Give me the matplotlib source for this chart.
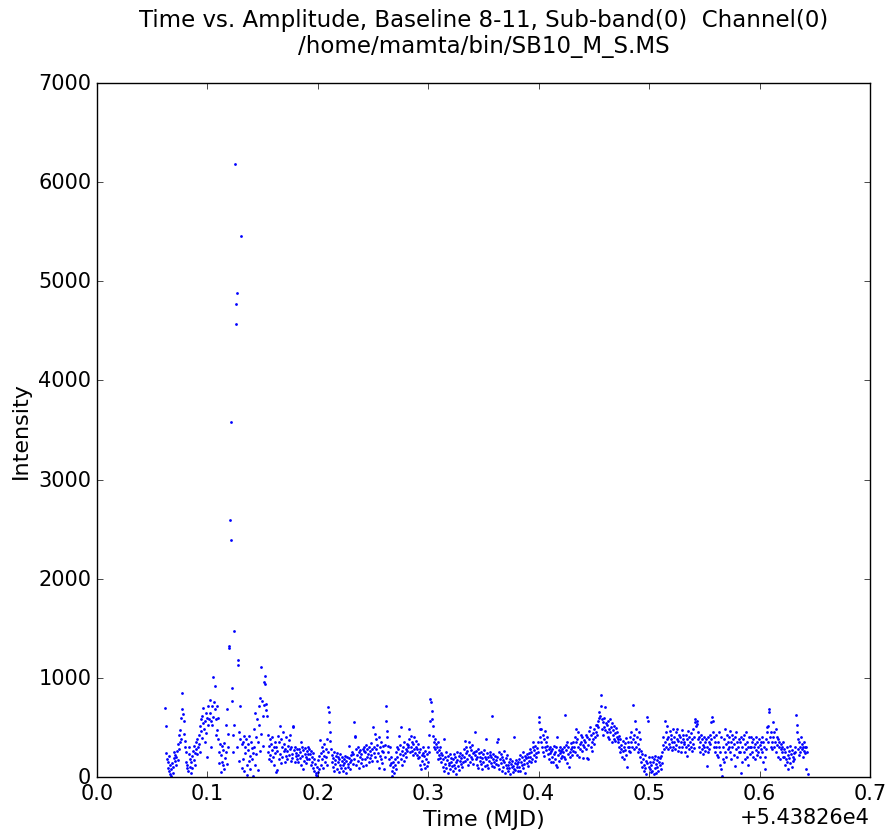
import numpy as np
import matplotlib
matplotlib.use("Agg")
import matplotlib.pyplot as plt
from matplotlib.ticker import ScalarFormatter

# time axis: regular samples, MJD
mjd_offset = 54382.6
t_start = 0.062
t_step = 0.0005

# amplitude, 20 samples per row (0.01 MJD)
amp_rows = [
    [700, 515, 240, 180, 90, 150, 60, 210, 120, 30, 5, 80, 140, 40, 100, 190, 250, 160, 220, 120],
    [200, 260, 170, 330, 280, 420, 350, 470, 380, 600, 690, 850, 640, 560, 430, 300, 360, 250, 150, 90],
    [120, 60, 230, 300, 180, 100, 45, 150, 210, 90, 260, 170, 310, 240, 120, 280, 350, 230, 380, 300],
    [420, 330, 510, 250, 460, 580, 390, 620, 540, 700, 480, 350, 560, 650, 440, 200, 600, 520, 720, 580],
    [650, 780, 300, 560, 720, 520, 1005, 610, 760, 920, 690, 590, 420, 720, 470, 380, 600, 250, 140, 330],
    [220, 50, 310, 150, 270, 120, 340, 80, 190, 250, 520, 130, 690, 300, 430, 1320, 1300, 2590, 2395, 3580],
    [770, 900, 420, 250, 1475, 520, 6180, 4770, 4565, 4885, 300, 1185, 1125, 160, 450, 720, 380, 5460, 90, 330],
    [350, 180, 410, 60, 300, 240, 380, 120, 20, 270, 330, 160, 410, 210, 80, 350, 180, 290, 15, 240],
    [300, 480, 120, 650, 230, 400, 585, 70, 350, 520, 720, 260, 800, 430, 1106, 770, 620, 310, 730, 960],
    [940, 1022, 680, 735, 620, 420, 250, 310, 180, 380, 220, 330, 160, 270, 400, 200, 300, 120, 350, 240],
    [50, 300, 70, 260, 410, 180, 350, 517, 230, 140, 380, 300, 200, 450, 260, 330, 150, 280, 400, 210],
    [260, 180, 310, 370, 220, 420, 280, 160, 300, 230, 190, 510, 505, 270, 300, 150, 240, 210, 280, 180],
    [220, 150, 280, 190, 250, 120, 350, 300, 210, 80, 270, 160, 230, 290, 140, 200, 260, 180, 300, 230],
    [280, 180, 230, 120, 260, 200, 150, 240, 90, 180, 60, 130, 20, 40, 5, 100, 50, 170, 80, 210],
    [370, 240, 120, 300, 180, 260, 90, 330, 210, 150, 280, 200, 380, 120, 250, 703, 653, 552, 451, 367],
    [280, 150, 220, 100, 190, 60, 250, 170, 130, 210, 80, 240, 150, 200, 50, 180, 120, 230, 90, 160],
    [200, 120, 60, 180, 140, 210, 90, 160, 40, 200, 130, 100, 190, 316, 150, 80, 220, 170, 250, 130],
    [230, 552, 180, 410, 400, 280, 120, 220, 160, 300, 250, 90, 200, 270, 140, 230, 180, 280, 110, 260],
    [300, 180, 250, 120, 320, 200, 280, 230, 150, 300, 260, 190, 340, 220, 280, 160, 501, 240, 300, 200],
    [434, 280, 383, 160, 320, 240, 400, 90, 300, 210, 350, 180, 260, 140, 310, 250, 80, 200, 320, 716],
    [569, 468, 400, 316, 250, 180, 120, 300, 200, 140, 60, 10, 100, 150, 40, 120, 180, 80, 250, 300],
    [200, 280, 150, 417, 320, 230, 501, 180, 260, 120, 300, 220, 350, 160, 240, 280, 200, 330, 260, 300],
    [320, 484, 380, 250, 300, 417, 260, 350, 220, 330, 283, 400, 240, 300, 360, 220, 280, 190, 330, 250],
    [200, 120, 280, 80, 220, 160, 300, 240, 130, 210, 90, 260, 180, 110, 230, 300, 150, 250, 420, 560],
    [787, 754, 670, 585, 518, 417, 350, 300, 380, 283, 330, 250, 300, 182, 350, 220, 270, 190, 300, 240],
    [150, 220, 100, 180, 60, 383, 200, 130, 250, 90, 170, 45, 210, 140, 120, 230, 80, 190, 150, 110],
    [180, 60, 230, 120, 90, 200, 150, 30, 250, 170, 110, 210, 70, 160, 240, 130, 190, 100, 220, 150],
    [200, 280, 367, 160, 240, 300, 180, 260, 120, 350, 220, 300, 150, 270, 200, 320, 180, 240, 130, 250],
    [220, 451, 180, 260, 120, 200, 280, 90, 240, 160, 200, 130, 250, 80, 190, 230, 150, 270, 110, 200],
    [383, 180, 120, 240, 200, 90, 160, 220, 250, 140, 200, 110, 612, 180, 230, 150, 100, 210, 170, 130],
    [200, 350, 120, 383, 250, 80, 180, 140, 230, 60, 200, 170, 100, 260, 150, 45, 190, 120, 220, 90],
    [120, 60, 150, 90, 180, 30, 130, 100, 160, 50, 110, 400, 80, 140, 70, 170, 100, 130, 60, 150],
    [180, 100, 220, 60, 150, 200, 120, 250, 90, 170, 130, 210, 45, 190, 140, 230, 110, 200, 160, 240],
    [200, 280, 150, 250, 180, 300, 350, 220, 270, 160, 310, 240, 200, 290, 250, 350, 552, 602, 480, 400],
    [484, 350, 300, 420, 250, 380, 216, 460, 300, 350, 270, 400, 310, 230, 280, 180, 300, 240, 150, 260],
    [200, 280, 150, 310, 230, 180, 250, 120, 300, 400, 98, 220, 270, 160, 240, 300, 190, 260, 210, 280],
    [250, 300, 200, 626, 180, 320, 270, 140, 350, 230, 300, 98, 250, 200, 340, 280, 220, 300, 350, 260],
    [300, 250, 400, 350, 484, 220, 380, 300, 450, 200, 330, 280, 420, 350, 260, 400, 190, 320, 370, 300],
    [350, 420, 280, 400, 190, 182, 320, 460, 380, 500, 300, 420, 350, 260, 440, 380, 480, 330, 400, 520],
    [450, 520, 420, 560, 500, 600, 653, 620, 831, 720, 580, 480, 550, 420, 600, 500, 470, 703, 540, 450],
    [520, 400, 560, 480, 380, 585, 450, 500, 350, 540, 420, 470, 380, 510, 440, 360, 490, 400, 450, 380],
    [350, 300, 417, 250, 380, 280, 320, 200, 360, 260, 300, 182, 340, 270, 390, 220, 98, 300, 350, 260],
    [300, 400, 250, 350, 450, 300, 380, 730, 420, 280, 569, 350, 480, 300, 400, 250, 330, 450, 280, 380],
    [200, 260, 150, 230, 100, 180, 60, 120, 220, 90, 160, 30, 140, 602, 569, 200, 100, 80, 150, 50],
    [120, 200, 60, 150, 30, 180, 90, 215, 130, 40, 170, 100, 200, 60, 150, 120, 190, 80, 210, 140],
    [250, 320, 400, 280, 350, 569, 300, 450, 380, 518, 280, 400, 330, 460, 300, 380, 420, 270, 350, 480],
    [300, 400, 350, 280, 450, 320, 380, 484, 260, 360, 420, 300, 400, 250, 350, 470, 300, 380, 420, 330],
    [350, 250, 420, 300, 380, 216, 460, 320, 280, 400, 350, 300, 440, 260, 380, 330, 480, 290, 400, 550],
    [585, 518, 560, 530, 450, 380, 300, 400, 250, 350, 420, 280, 380, 320, 230, 400, 300, 350, 260, 380],
    [115, 300, 400, 250, 350, 280, 420, 330, 380, 552, 602, 450, 560, 300, 400, 350, 250, 420, 300, 220],
    [350, 200, 450, 300, 120, 250, 400, 80, 10, 180, 300, 380, 150, 484, 250, 330, 200, 420, 280, 350],
    [300, 400, 250, 468, 350, 180, 420, 300, 380, 220, 330, 115, 400, 280, 450, 200, 350, 300, 250, 380],
    [250, 350, 400, 45, 300, 150, 380, 250, 420, 180, 330, 280, 450, 200, 350, 120, 300, 400, 230, 300],
    [300, 400, 250, 350, 200, 380, 300, 182, 330, 270, 400, 220, 350, 300, 250, 380, 200, 320, 280, 350],
    [250, 400, 150, 350, 300, 80, 200, 380, 280, 450, 500, 350, 518, 686, 653, 400, 300, 450, 350, 280],
    [400, 550, 300, 450, 350, 480, 250, 400, 320, 200, 380, 300, 350, 182, 280, 330, 250, 300, 200, 350],
    [200, 280, 120, 250, 180, 300, 150, 220, 80, 260, 190, 316, 140, 230, 100, 270, 200, 160, 240, 180],
    [300, 250, 626, 520, 450, 380, 280, 350, 220, 300, 250, 400, 280, 330, 200, 300, 260, 350, 240, 300],
    [80, 300, 250, 30],
]

amp = np.concatenate([np.array(r, dtype=float) for r in amp_rows])
t = mjd_offset + t_start + t_step * np.arange(len(amp))

plt.style.use('classic')
plt.rcParams['font.family'] = 'DejaVu Sans'

fig = plt.figure(figsize=(8.89, 8.37), dpi=100)
ax = fig.add_axes([0.109, 0.0705, 0.8696, 0.8291])

ax.plot(t, amp, 'b.', markersize=4, markeredgewidth=0)

ax.set_xlim(mjd_offset, mjd_offset + 0.7)
ax.set_ylim(0, 7000)
ax.set_xticks(mjd_offset + np.arange(0, 0.71, 0.1))
ax.xaxis.set_major_formatter(ScalarFormatter(useOffset=mjd_offset))
ax.tick_params(labelsize=15)
ax.xaxis.get_offset_text().set_size(15)

ax.set_title("Time vs. Amplitude, Baseline 8-11, Sub-band(0)  Channel(0)\n/home/mamta/bin/SB10_M_S.MS",
             fontsize=16.5, pad=22)
ax.set_xlabel("Time (MJD)", fontsize=16)
ax.set_ylabel("Intensity", fontsize=16)

fig.savefig("out.png", dpi=100)
